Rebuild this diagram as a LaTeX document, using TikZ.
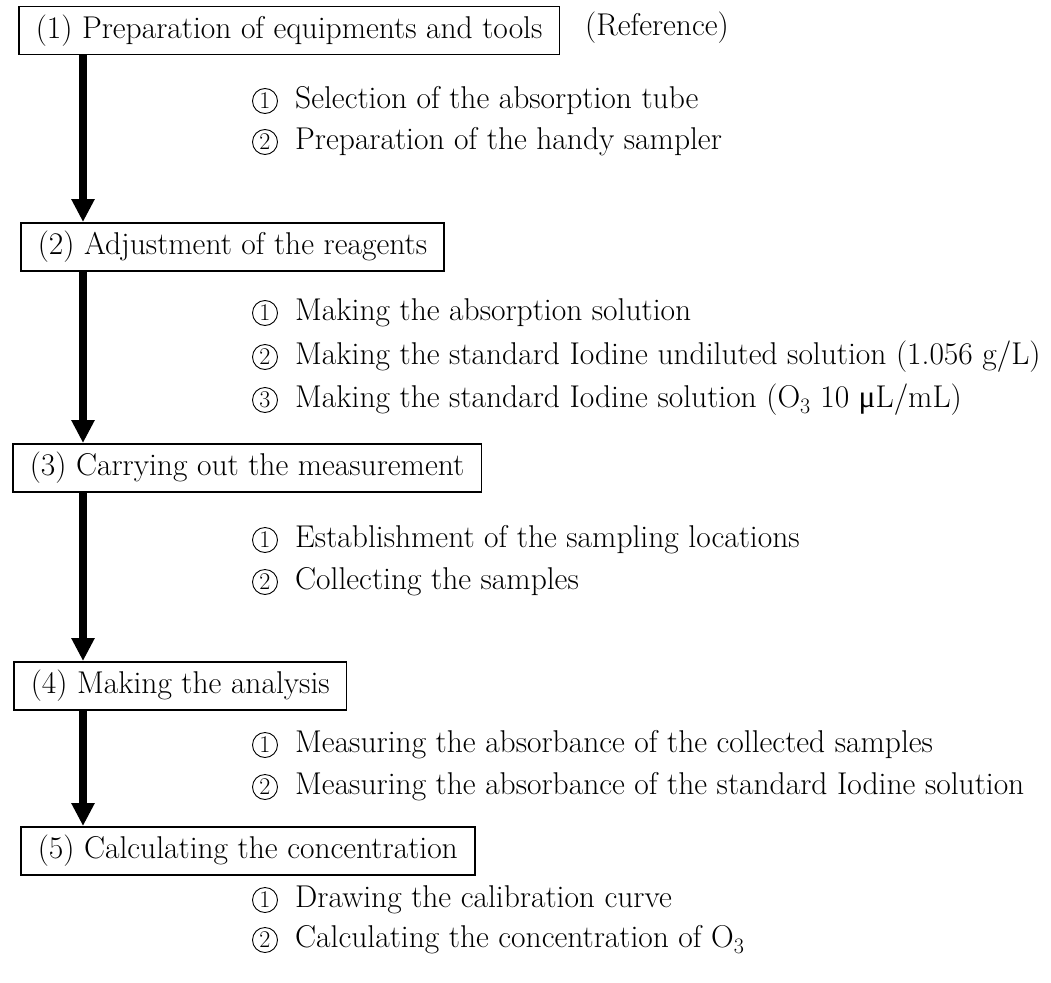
\documentclass[tikz,border=0pt]{standalone}
\usepackage{fontspec}
\usetikzlibrary{arrows.meta}
\newfontfamily\greekfont{Liberation Serif}
\begin{document}
\begin{tikzpicture}[x=1pt,y=-1pt,
  every node/.style={font=\fontsize{31.5}{36}\selectfont},
  stepbox/.style={draw, line width=1.5pt, anchor=north west, minimum height=48pt,
    inner xsep=17pt, inner ysep=0pt},
  item/.style={anchor=west, inner sep=0pt},
  numcirc/.style={circle, draw, line width=0.9pt, minimum size=25pt, inner sep=0pt,
    font=\fontsize{24}{24}\selectfont},
  flow/.style={line width=8pt, -{Triangle[length=23pt,width=22pt]}}]
\useasboundingbox (0,0) rectangle (1051,982);
\coordinate (spine) at (83,0);

% process steps
\node[stepbox] (s1) at (18,6) {(1) Preparation of equipments and tools};
\node[stepbox] (s2) at (20,222) {(2) Adjustment of the reagents};
\node[stepbox] (s3) at (12,443) {(3) Carrying out the measurement};
\node[stepbox] (s4) at (13,661) {(4) Making the analysis};
\node[stepbox] (s5) at (20,826) {(5) Calculating the concentration};
\node[item] (ref) at (585,28) {(Reference)};

% arrows between steps
\draw[flow] (s1.south -| spine) -- (s2.north -| spine);
\draw[flow] (s2.south -| spine) -- (s3.north -| spine);
\draw[flow] (s3.south -| spine) -- (s4.north -| spine);
\draw[flow] (s4.south -| spine) -- (s5.north -| spine);

% sub-items of each step
\node[numcirc] (n11) at (265,101) {1};
\node[item] (i11) at (295,101) {Selection of the absorption tube};
\node[numcirc] (n12) at (265,142) {2};
\node[item] (i12) at (295,142) {Preparation of the handy sampler};

\node[numcirc] (n21) at (265,313) {1};
\node[item] (i21) at (295,313) {Making the absorption solution};
\node[numcirc] (n22) at (265,357) {2};
\node[item] (i22) at (295,357) {Making the standard Iodine undiluted solution (1.056 g/L)};
\node[numcirc] (n23) at (265,400) {3};
\node[item] (i23) at (295,400) {Making the standard Iodine solution (O\textsubscript{3} 10 {\greekfont μ}L/mL)};

\node[numcirc] (n31) at (265,540) {1};
\node[item] (i31) at (295,540) {Establishment of the sampling locations};
\node[numcirc] (n32) at (265,582) {2};
\node[item] (i32) at (295,582) {Collecting the samples};

\node[numcirc] (n41) at (265,745) {1};
\node[item] (i41) at (295,745) {Measuring the absorbance of the collected samples};
\node[numcirc] (n42) at (265,787) {2};
\node[item] (i42) at (295,787) {Measuring the absorbance of the standard Iodine solution};

\node[numcirc] (n51) at (265,900) {1};
\node[item] (i51) at (295,900) {Drawing the calibration curve};
\node[numcirc] (n52) at (265,940) {2};
\node[item] (i52) at (295,940) {Calculating the concentration of O\textsubscript{3}};
\end{tikzpicture}
\end{document}
